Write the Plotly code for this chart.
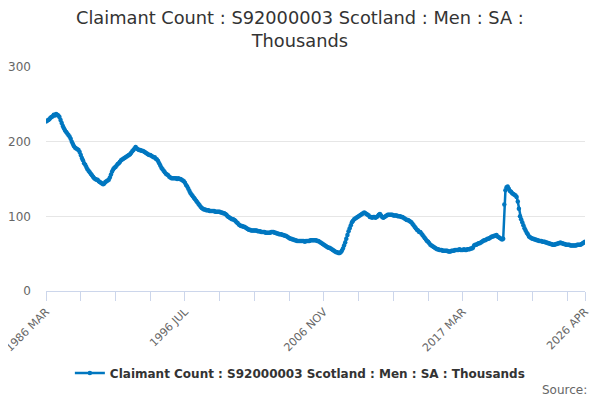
import plotly.graph_objects as go

# ---------------------------------------------------------------
# Data: Claimant Count, Scotland, Men, SA (thousands), monthly
# ---------------------------------------------------------------
MONTHS = ["JAN", "FEB", "MAR", "APR", "MAY", "JUN",
          "JUL", "AUG", "SEP", "OCT", "NOV", "DEC"]

v1986 = [227, 228, 229, 230, 232, 233, 234, 236, 235, 237]  # from MAR
v1987 = [236, 235, 233, 229, 225, 221, 218, 215, 213, 211, 209, 207]
v1988 = [204, 200, 197, 194, 192, 191, 190, 189, 186, 182, 178, 175]
v1989 = [171, 169, 166, 163, 161, 159, 157, 155, 153, 151, 150, 149]
v1990 = [149, 147, 146, 145, 144, 143, 144, 146, 147, 148, 149, 152]
v1991 = [156, 160, 163, 165, 166, 168, 170, 171, 173, 175, 176, 177]
v1992 = [178, 179, 180, 181, 182, 183, 185, 187, 189, 191, 193, 191]
v1993 = [190, 189, 189, 188, 188, 187, 186, 185, 184, 183, 182, 182]
v1994 = [181, 180, 179, 179, 177, 176, 174, 171, 168, 165, 163, 161]
v1995 = [159, 157, 156, 155, 153, 152, 151, 151, 151, 151, 151, 150]
v1996 = [151, 150, 150, 149, 148, 147, 145, 142, 140, 137, 134, 131]
v1997 = [129, 127, 125, 123, 121, 119, 117, 115, 113, 111, 110, 109]
v1998 = [109, 108, 108, 108, 107, 107, 107, 107, 107, 106, 106, 106]
v1999 = [106, 106, 105, 105, 104, 104, 103, 102, 100, 99, 98, 97]
v2000 = [96, 96, 95, 94, 92, 91, 89, 88, 87, 87, 86, 86]
v2001 = [85, 84, 83, 82, 82, 81, 81, 81, 81, 81, 81, 80]
v2002 = [80, 80, 79, 79, 79, 79, 78, 78, 78, 78, 78, 79]
v2003 = [79, 79, 78, 78, 77, 77, 76, 76, 76, 75, 75, 74]
v2004 = [74, 73, 72, 71, 70, 70, 69, 69, 68, 68, 67, 67]
v2005 = [67, 67, 67, 67, 67, 66, 67, 67, 67, 67, 68, 68]
v2006 = [68, 68, 68, 68, 67, 67, 66, 65, 64, 63, 62, 61]
v2007 = [60, 59, 58, 58, 57, 56, 55, 54, 53, 52, 52, 51]
v2008 = [51, 52, 54, 57, 61, 65, 70, 75, 80, 84, 88, 92]
v2009 = [94, 96, 97, 98, 99, 100, 101, 102, 103, 104, 105, 104]
v2010 = [103, 102, 101, 99, 99, 98, 99, 99, 98, 99, 100, 102]
v2011 = [103, 101, 99, 98, 99, 100, 101, 102, 102, 102, 102, 102]
v2012 = [101, 101, 101, 101, 100, 100, 100, 99, 99, 98, 97, 96]
v2013 = [95, 95, 94, 93, 92, 90, 88, 86, 84, 82, 81, 79]
v2014 = [79, 77, 75, 73, 71, 69, 67, 66, 64, 62, 61, 60]
v2015 = [59, 58, 57, 56, 56, 55, 55, 55, 54, 54, 54, 54]
v2016 = [54, 53, 53, 53, 54, 54, 54, 55, 55, 55, 55, 56]
v2017 = [55, 55, 55, 56, 55, 55, 56, 56, 56, 57, 57, 58]
v2018 = [61, 62, 62, 63, 64, 64, 65, 66, 67, 68, 68, 69]
v2019 = [70, 70, 71, 72, 73, 73, 74, 74, 75, 73, 72, 71]
v2020 = [70, 69, 70, 116, 135, 139, 140, 137, 134, 133, 131, 130]
v2021 = [129, 128, 126, 120, 110, 100, 96, 92, 88, 84, 81, 78]
v2022 = [76, 73, 72, 71, 70, 70, 69, 69, 68, 68, 67, 67]
v2023 = [67, 66, 66, 66, 65, 65, 64, 64, 63, 63, 62, 62]
v2024 = [62, 63, 63, 64, 64, 65, 64, 64, 63, 63, 62, 62]
v2025 = [62, 62, 61, 61, 61, 61, 61, 61, 62, 62, 62, 62]
v2026 = [63, 64, 65, 66]  # to APR

years = {
    1986: v1986, 1987: v1987, 1988: v1988, 1989: v1989, 1990: v1990,
    1991: v1991, 1992: v1992, 1993: v1993, 1994: v1994, 1995: v1995,
    1996: v1996, 1997: v1997, 1998: v1998, 1999: v1999, 2000: v2000,
    2001: v2001, 2002: v2002, 2003: v2003, 2004: v2004, 2005: v2005,
    2006: v2006, 2007: v2007, 2008: v2008, 2009: v2009, 2010: v2010,
    2011: v2011, 2012: v2012, 2013: v2013, 2014: v2014, 2015: v2015,
    2016: v2016, 2017: v2017, 2018: v2018, 2019: v2019, 2020: v2020,
    2021: v2021, 2022: v2022, 2023: v2023, 2024: v2024, 2025: v2025,
    2026: v2026,
}

labels = []
values = []
for yr, vals in years.items():
    start = 2 if yr == 1986 else 0
    for k, v in enumerate(vals):
        labels.append(f"{yr} {MONTHS[start + k]}")
        values.append(v)

# ticks every 31 months, text on every 4th tick and on the last month
TICK_STEP = 31
tick_vals = labels[::TICK_STEP] + [labels[-1]]
tick_text = [lab if i % (TICK_STEP * 4) == 0 else "" for i, lab in
             zip(range(0, len(labels), TICK_STEP), labels[::TICK_STEP])] + [labels[-1]]

SERIES = "Claimant Count : S92000003 Scotland : Men : SA : Thousands"
BLUE = "#0077c0"
GREY = "#666666"

fig = go.Figure()
fig.add_trace(go.Scatter(
    x=labels, y=values, name=f"<b>{SERIES}</b>",
    mode="lines+markers",
    line=dict(color=BLUE, width=2.5),
    marker=dict(color=BLUE, size=4.5),
))

# page body adds ~8px offset, so the figure is 592x392
fig.update_layout(
    width=592, height=392,
    paper_bgcolor="white", plot_bgcolor="white",
    font=dict(family="DejaVu Sans", color=GREY),
    margin=dict(l=38, r=15, t=59, b=109),
    title=dict(text="Claimant Count : S92000003 Scotland : Men : SA :<br>Thousands",
               x=0.493, xanchor="center", y=0.96, yanchor="middle",
               font=dict(size=17.8, color="#333333")),
    showlegend=True,
    legend=dict(orientation="h", x=0.471, xanchor="center", y=-0.366, yanchor="middle",
                font=dict(size=12, color="#333333"), itemwidth=30),
)

fig.update_xaxes(
    type="category", range=[0, len(labels) - 1], automargin=False,
    tickmode="array", tickvals=tick_vals, ticktext=tick_text,
    tickangle=-45, ticks="outside", ticklen=9, tickcolor="#ccd6eb",
    showline=True, linecolor="#ccd6eb", linewidth=1,
    showgrid=False, tickfont=dict(size=11, color=GREY),
)
fig.update_yaxes(
    range=[0, 300], tickvals=[0, 100, 200, 300], automargin=False,
    showgrid=True, gridcolor="#e6e6e6", zeroline=False,
    ticklabelstandoff=14, tickfont=dict(size=12, color=GREY),
)

fig.add_annotation(text="Source:", xref="paper", yref="paper",
                   x=1.008, y=-0.442, xanchor="right", yanchor="middle",
                   showarrow=False, font=dict(size=12, color=GREY))

fig.write_html("out.html")
